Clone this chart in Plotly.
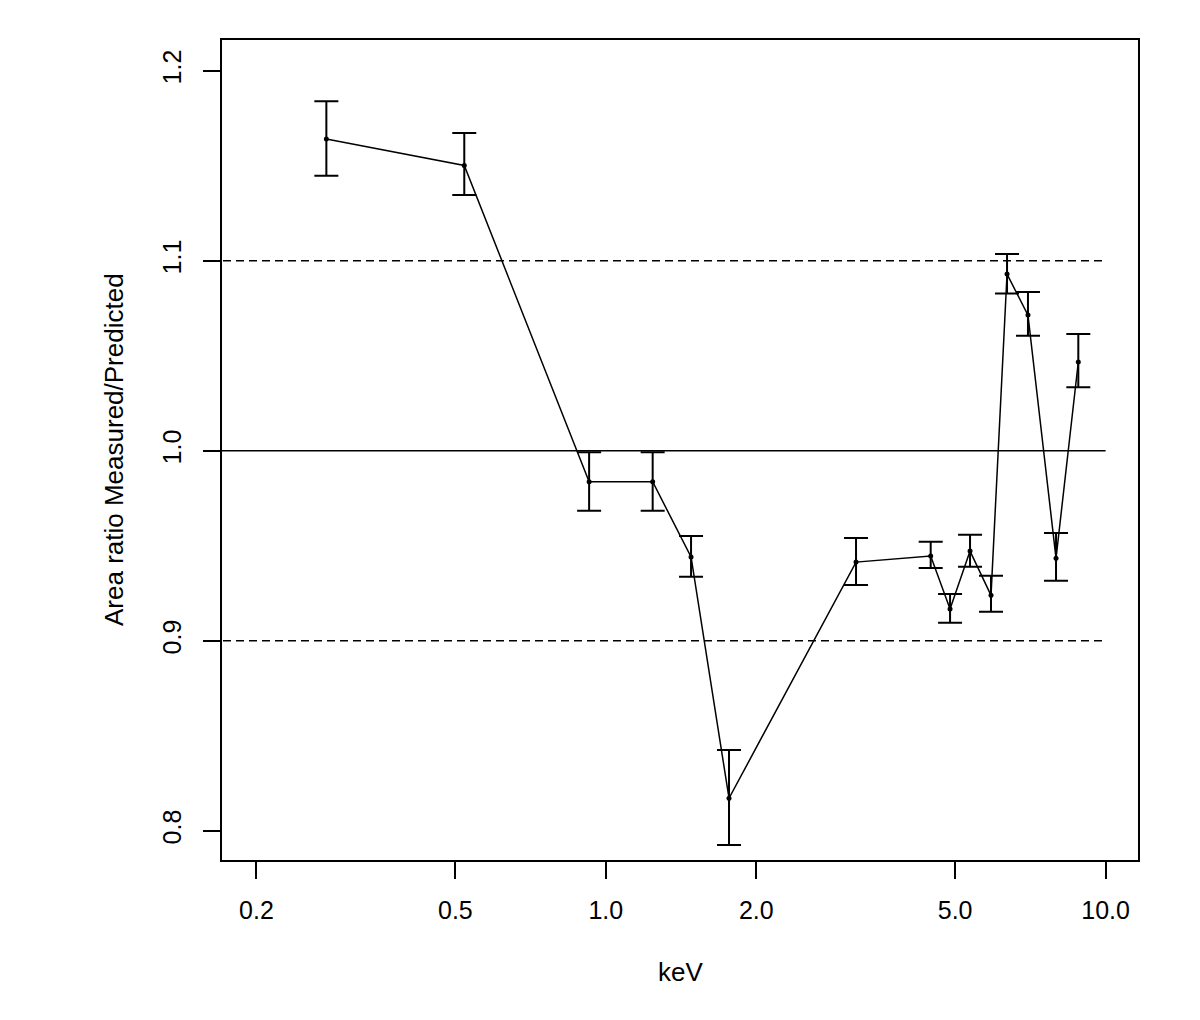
import plotly.graph_objects as go

# Data
energy_kev = [0.276, 0.521, 0.926, 1.241, 1.481, 1.764, 3.167, 4.467, 4.884, 5.355, 5.898, 6.350, 6.993, 7.958, 8.818]
area_ratio = [1.1641, 1.1502, 0.9837, 0.9837, 0.9441, 0.8171, 0.9414, 0.9446, 0.9167, 0.9472, 0.9239, 1.0930, 1.0714, 0.9434, 1.0467]
err_upper = [1.1840, 1.1672, 0.9992, 0.9992, 0.9551, 0.8425, 0.9541, 0.9521, 0.9246, 0.9558, 0.9342, 1.1035, 1.0835, 0.9567, 1.0614]
err_lower = [1.1447, 1.1346, 0.9684, 0.9684, 0.9337, 0.7925, 0.9293, 0.9383, 0.9095, 0.9389, 0.9153, 1.0828, 1.0605, 0.9316, 1.0334]

ref_levels = [0.9, 1.0, 1.1]
ref_dash = ["8px,5px", "solid", "8px,5px"]
ref_xspan = [0.1, 10.0]

x_ticks = [0.2, 0.5, 1.0, 2.0, 5.0, 10.0]
x_ticklabels = ["0.2", "0.5", "1.0", "2.0", "5.0", "10.0"]
y_ticks = [0.8, 0.9, 1.0, 1.1, 1.2]
y_ticklabels = ["0.8", "0.9", "1.0", "1.1", "1.2"]

plus = [u - v for u, v in zip(err_upper, area_ratio)]
minus = [v - l for v, l in zip(area_ratio, err_lower)]

FONT = "Liberation Sans, Arial, sans-serif"

fig = go.Figure()

for lvl, dsh in zip(ref_levels, ref_dash):
    fig.add_trace(go.Scatter(
        x=ref_xspan, y=[lvl, lvl], mode="lines",
        line=dict(color="black", width=1.7, dash=dsh),
        showlegend=False, hoverinfo="skip"))

fig.add_trace(go.Scatter(
    x=energy_kev, y=area_ratio, mode="lines+markers",
    line=dict(color="black", width=1.5),
    marker=dict(color="black", size=5),
    error_y=dict(type="data", symmetric=False, array=plus, arrayminus=minus,
                 color="black", thickness=2, width=12),
    showlegend=False))

fig.update_layout(
    width=1200, height=1020,
    margin=dict(l=214, r=70, t=32, b=168),
    paper_bgcolor="white", plot_bgcolor="white",
    font=dict(family=FONT, size=25, color="black"),
    xaxis=dict(
        type="log", range=[-0.7679, 1.0648],
        tickvals=x_ticks, ticktext=x_ticklabels,
        ticks="outside", ticklen=17, tickwidth=2, tickcolor="black",
        showline=True, linewidth=2, linecolor="black", mirror=True,
        showgrid=False, zeroline=False, ticklabelstandoff=10,
        automargin=False),
    yaxis=dict(
        range=[0.7846, 1.2162],
        tickvals=y_ticks, ticktext=y_ticklabels, tickangle=-90,
        ticks="outside", ticklen=17, tickwidth=2, tickcolor="black",
        showline=True, linewidth=2, linecolor="black", mirror=True,
        showgrid=False, zeroline=False, ticklabelstandoff=12,
        automargin=False),
    annotations=[
        dict(text="keV", xref="paper", yref="paper", x=0.5, y=-0.1366,
             xanchor="center", yanchor="middle", showarrow=False,
             font=dict(family=FONT, size=26)),
        dict(text="Area ratio Measured/Predicted", xref="paper", yref="paper",
             x=-0.1179, y=0.5, xanchor="center", yanchor="middle",
             textangle=-90, showarrow=False, font=dict(family=FONT, size=26)),
    ],
)

fig.write_html("out.html")
